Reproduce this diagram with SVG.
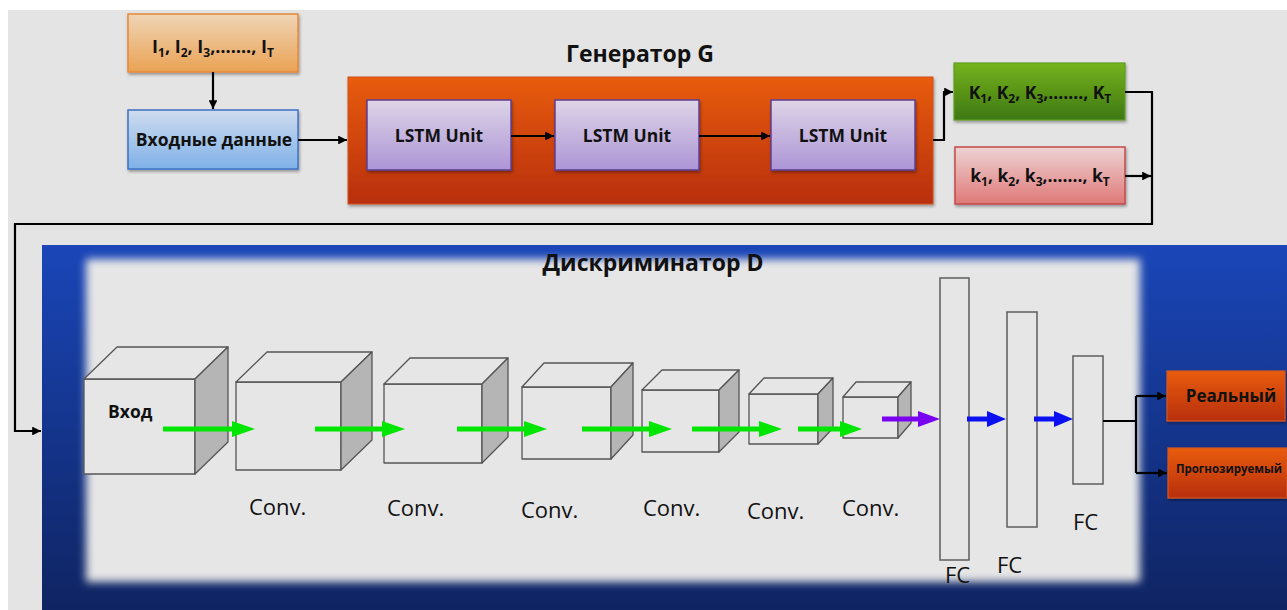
<svg xmlns="http://www.w3.org/2000/svg" width="1287" height="610" viewBox="0 0 1287 610">
  <defs>
    <style>
      text { font-family: "Open Sans", "Noto Sans", "DejaVu Sans", sans-serif; fill: #111; }
      .b { font-weight: 700; }
      .mid { text-anchor: middle; }
      .lbl { font-size: 22px; font-weight: 400; }
      .wire { fill: none; stroke: #000; stroke-width: 2.2; }
      .face { fill: #e6e6e6; stroke: #555; stroke-width: 1.3; stroke-linejoin: round; }
      .side { fill: #b5b5b5; stroke: #555; stroke-width: 1.3; stroke-linejoin: round; }
      .bar { fill: #e6e6e6; stroke: #666; stroke-width: 1.6; }
      .sub { font-size: 12px; }
    </style>
    <linearGradient id="gInput" x1="0" y1="0" x2="0" y2="1">
      <stop offset="0" stop-color="#efd5b6"/><stop offset="1" stop-color="#eaa254"/>
    </linearGradient>
    <linearGradient id="gData" x1="0" y1="0" x2="0" y2="1">
      <stop offset="0" stop-color="#cfdcee"/><stop offset="1" stop-color="#7fb1e8"/>
    </linearGradient>
    <linearGradient id="gGen" x1="0" y1="0" x2="0" y2="1">
      <stop offset="0" stop-color="#e85c0e"/><stop offset="1" stop-color="#b82f0a"/>
    </linearGradient>
    <linearGradient id="gLstm" x1="0" y1="0" x2="0" y2="1">
      <stop offset="0" stop-color="#ded4e7"/><stop offset="1" stop-color="#ac95d6"/>
    </linearGradient>
    <linearGradient id="gGreen" x1="0" y1="0" x2="0" y2="1">
      <stop offset="0" stop-color="#75b21c"/><stop offset="1" stop-color="#3e7815"/>
    </linearGradient>
    <linearGradient id="gPink" x1="0" y1="0" x2="0" y2="1">
      <stop offset="0" stop-color="#edd3d3"/><stop offset="1" stop-color="#e07878"/>
    </linearGradient>
    <linearGradient id="gDisc" x1="0" y1="0" x2="0" y2="1">
      <stop offset="0" stop-color="#1a46b8"/><stop offset="1" stop-color="#0f2462"/>
    </linearGradient>
    <filter id="shadow" x="-10%" y="-10%" width="130%" height="140%">
      <feDropShadow dx="1" dy="2" stdDeviation="1.5" flood-color="#000" flood-opacity="0.35"/>
    </filter>
    <filter id="soft" x="-5%" y="-5%" width="110%" height="110%">
      <feGaussianBlur stdDeviation="4"/>
    </filter>
    <marker id="ah" viewBox="0 0 10 10" refX="10" refY="5" markerWidth="4" markerHeight="4" orient="auto" markerUnits="strokeWidth">
      <path d="M0,0 L10,5 L0,10 z" fill="#000"/>
    </marker>
  </defs>

  <!-- page -->
  <rect x="0" y="0" width="1287" height="610" fill="#ffffff"/>
  <rect x="8" y="10" width="1279" height="600" fill="#e4e4e4"/>

  <!-- discriminator panel -->
  <g id="discriminator">
    <rect x="42" y="245" width="1245" height="365" fill="url(#gDisc)"/>
    <rect x="86" y="259" width="1054" height="323" fill="#e6e6e6" filter="url(#soft)"/>
    <text class="b mid" x="653" y="271" font-size="23">Дискриминатор D</text>
  </g>

  <!-- generator panel -->
  <g id="generator">
    <rect x="348" y="77" width="585" height="127" fill="url(#gGen)" stroke="#d0501a" stroke-width="1" filter="url(#shadow)"/>
    <text class="b mid" x="640" y="62" font-size="23">Генератор G</text>
  </g>

  <g id="input-seq">
    <rect x="128" y="14" width="170" height="58" fill="url(#gInput)" stroke="#e6883a" stroke-width="1.5" filter="url(#shadow)"/>
    <text class="b mid" x="213" y="53" font-size="18">I<tspan class="sub" dy="4">1</tspan><tspan dy="-4">, I</tspan><tspan class="sub" dy="4">2</tspan><tspan dy="-4">, I</tspan><tspan class="sub" dy="4">3</tspan><tspan dy="-4">,……., I</tspan><tspan class="sub" dy="4">T</tspan></text>
  </g>

  <g id="input-data">
    <rect x="128" y="110" width="170" height="59" fill="url(#gData)" stroke="#3d72c4" stroke-width="1.5" filter="url(#shadow)"/>
    <text class="b mid" x="214" y="146" font-size="17.5">Входные данные</text>
  </g>

  <g id="lstm1">
    <rect x="367" y="100" width="144" height="70" fill="url(#gLstm)" stroke="#5d3f92" stroke-width="1.5" filter="url(#shadow)"/>
    <text class="b mid" x="439" y="142" font-size="17.5">LSTM Unit</text>
  </g>
  <g id="lstm2">
    <rect x="555" y="100" width="144" height="70" fill="url(#gLstm)" stroke="#5d3f92" stroke-width="1.5" filter="url(#shadow)"/>
    <text class="b mid" x="627" y="142" font-size="17.5">LSTM Unit</text>
  </g>
  <g id="lstm3">
    <rect x="771" y="100" width="144" height="70" fill="url(#gLstm)" stroke="#5d3f92" stroke-width="1.5" filter="url(#shadow)"/>
    <text class="b mid" x="843" y="142" font-size="17.5">LSTM Unit</text>
  </g>

  <g id="out-real">
    <rect x="954" y="63" width="171" height="57" fill="url(#gGreen)" stroke="#5e9e22" stroke-width="1.2" filter="url(#shadow)"/>
    <text class="b mid" x="1040" y="99" font-size="17.5">K<tspan class="sub" dy="4">1</tspan><tspan dy="-4">, K</tspan><tspan class="sub" dy="4">2</tspan><tspan dy="-4">, K</tspan><tspan class="sub" dy="4">3</tspan><tspan dy="-4">,……., K</tspan><tspan class="sub" dy="4">T</tspan></text>
  </g>

  <g id="out-pred">
    <rect x="955" y="147" width="170" height="57" fill="url(#gPink)" stroke="#c44a4a" stroke-width="1.5" filter="url(#shadow)"/>
    <text class="b mid" x="1040" y="182" font-size="17.5">k<tspan class="sub" dy="4">1</tspan><tspan dy="-4">, k</tspan><tspan class="sub" dy="4">2</tspan><tspan dy="-4">, k</tspan><tspan class="sub" dy="4">3</tspan><tspan dy="-4">,……., k</tspan><tspan class="sub" dy="4">T</tspan></text>
  </g>

  <!-- convolution volumes: front face, top face, side face -->
  <g id="cube-input">
    <rect class="face" x="84" y="379" width="111" height="95"/>
    <path class="face" d="M84,379 L117,347 L228,347 L195,379 Z"/>
    <path class="side" d="M195,379 L228,347 L228,442 L195,474 Z"/>
    <text class="b" x="108" y="418" font-size="17.5">Вход</text>
  </g>
  <g id="conv1">
    <rect class="face" x="236" y="382" width="105" height="88"/>
    <path class="face" d="M236,382 L267,352 L372,352 L341,382 Z"/>
    <path class="side" d="M341,382 L372,352 L372,440 L341,470 Z"/>
    <text class="lbl" x="249" y="515">Conv.</text>
  </g>
  <g id="conv2">
    <rect class="face" x="384" y="384" width="98" height="79"/>
    <path class="face" d="M384,384 L410,358 L508,358 L482,384 Z"/>
    <path class="side" d="M482,384 L508,358 L508,437 L482,463 Z"/>
    <text class="lbl" x="387" y="516">Conv.</text>
  </g>
  <g id="conv3">
    <rect class="face" x="522" y="387" width="89" height="72"/>
    <path class="face" d="M522,387 L544,363 L633,363 L611,387 Z"/>
    <path class="side" d="M611,387 L633,363 L633,435 L611,459 Z"/>
    <text class="lbl" x="521" y="518">Conv.</text>
  </g>
  <g id="conv4">
    <rect class="face" x="642" y="390" width="77" height="62"/>
    <path class="face" d="M642,390 L662,370 L739,370 L719,390 Z"/>
    <path class="side" d="M719,390 L739,370 L739,432 L719,452 Z"/>
    <text class="lbl" x="643" y="516">Conv.</text>
  </g>
  <g id="conv5">
    <rect class="face" x="749" y="394" width="69" height="50"/>
    <path class="face" d="M749,394 L764,378 L833,378 L818,394 Z"/>
    <path class="side" d="M818,394 L833,378 L833,428 L818,444 Z"/>
    <text class="lbl" x="747" y="519">Conv.</text>
  </g>
  <g id="conv6">
    <rect class="face" x="843" y="397" width="55" height="41"/>
    <path class="face" d="M843,397 L856,382 L911,382 L898,397 Z"/>
    <path class="side" d="M898,397 L911,382 L911,423 L898,438 Z"/>
    <text class="lbl" x="842" y="516">Conv.</text>
  </g>

  <!-- fully connected layers -->
  <g id="fc1">
    <rect class="bar" x="940" y="278" width="29" height="282"/>
    <text class="lbl" x="945" y="583">FC</text>
  </g>
  <g id="fc2">
    <rect class="bar" x="1007" y="312" width="30" height="215"/>
    <text class="lbl" x="997" y="573">FC</text>
  </g>
  <g id="fc3">
    <rect class="bar" x="1073" y="356" width="30" height="128"/>
    <text class="lbl" x="1073" y="530">FC</text>
  </g>

  <g id="class-real">
    <rect x="1167" y="371" width="118" height="50" fill="url(#gGen)" stroke="#d8581e" stroke-width="1.2" filter="url(#shadow)"/>
    <text class="b mid" x="1231" y="402" font-size="17">Реальный</text>
  </g>
  <g id="class-pred">
    <rect x="1168" y="448" width="119" height="50" fill="url(#gGen)" stroke="#d8581e" stroke-width="1.2" filter="url(#shadow)"/>
    <text class="b mid" x="1229" y="473" font-size="11.5">Прогнозируемый</text>
  </g>

  <!-- connectors -->
  <g id="connectors">
    <path class="wire" d="M213,72 V109" marker-end="url(#ah)"/>
    <path class="wire" d="M298,140 H347" marker-end="url(#ah)"/>
    <path class="wire" d="M511,136 H554" marker-end="url(#ah)"/>
    <path class="wire" d="M699,136 H770" marker-end="url(#ah)"/>
    <path class="wire" d="M933,140 H944 V92 H953" marker-end="url(#ah)"/>
    <path class="wire" d="M1125,92 H1152 V224 H15 V431 H41" marker-end="url(#ah)"/>
    <path class="wire" d="M1125,176 H1151" marker-end="url(#ah)"/>
    <path class="wire" d="M1103,421 H1136"/>
    <path class="wire" d="M1136,396 V473"/>
    <path class="wire" d="M1136,396 H1166" marker-end="url(#ah)"/>
    <path class="wire" d="M1136,473 H1167" marker-end="url(#ah)"/>

    <!-- feature flow through the conv stack -->
    <g fill="#00e600" stroke="none">
      <path d="M163,426.5 H232 V421 L255,429 L232,437 V431.5 H163 Z"/>
      <path d="M315,426.5 H382 V421 L405,429 L382,437 V431.5 H315 Z"/>
      <path d="M457,426.5 H524 V421 L547,429 L524,437 V431.5 H457 Z"/>
      <path d="M582,426.5 H649 V421 L672,429 L649,437 V431.5 H582 Z"/>
      <path d="M692,426.5 H759 V421 L782,429 L759,437 V431.5 H692 Z"/>
      <path d="M798,426.5 H840 V421 L862,429 L840,437 V431.5 H798 Z"/>
    </g>
    <path fill="#7a00f0" d="M882,416.5 H918 V411 L940,419 L918,427 V421.5 H882 Z"/>
    <g fill="#0a10f0">
      <path d="M967,416.5 H987 V411 L1006,419 L987,427 V421.5 H967 Z"/>
      <path d="M1034,416.5 H1054 V411 L1073,419 L1054,427 V421.5 H1034 Z"/>
    </g>
  </g>
</svg>
